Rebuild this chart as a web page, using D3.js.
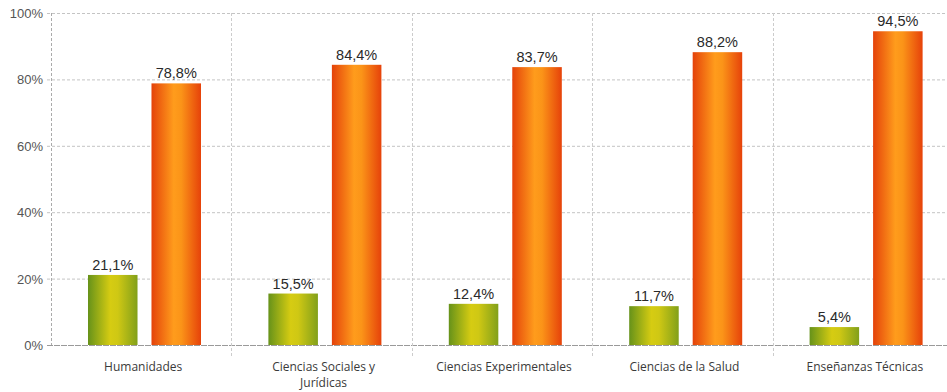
<!DOCTYPE html>
<html>
<head>
<meta charset="utf-8">
<script src="https://cdn.jsdelivr.net/npm/d3@7"></script>
<style>
  html, body { margin: 0; padding: 0; background: #fff; }
  svg { display: block; }
</style>
</head>
<body>
<svg id="chart" width="947" height="392"></svg>
<script>
const categories = ["Humanidades", "Ciencias Sociales y\nJurídicas", "Ciencias Experimentales", "Ciencias de la Salud", "Enseñanzas Técnicas"];
const series = ["a", "b"];
const valuesA = [21.1, 15.5, 12.4, 11.7, 5.4];
const valuesB = [78.8, 84.4, 83.7, 88.2, 94.5];
const yTicks = [0, 20, 40, 60, 80, 100];

const svg = d3.select("#chart");
const mLeft = 51, mRight = 953, mTop = 13, mBottom = 345;

const x0 = d3.scaleBand().domain(categories).range([mLeft, mRight]).padding(0);
const x1 = d3.scaleBand().domain(series).range([37, 150]).paddingInner(0.22);
const y = d3.scaleLinear().domain([0, 100]).range([mBottom, mTop]);

const defs = svg.append("defs");
const gA = defs.append("linearGradient").attr("id", "gA").attr("x1", "0").attr("x2", "1").attr("y1", "0").attr("y2", "0");
[[0, "#66921a"], [0.45, "#d6cc12"], [0.6, "#cfc814"], [1, "#82a01a"]].forEach(([o, c]) => gA.append("stop").attr("offset", o).attr("stop-color", c));
const gB = defs.append("linearGradient").attr("id", "gB").attr("x1", "0").attr("x2", "1").attr("y1", "0").attr("y2", "0");
[[0, "#e4420a"], [0.45, "#ff9c1c"], [0.6, "#fb9418"], [1, "#e6420a"]].forEach(([o, c]) => gB.append("stop").attr("offset", o).attr("stop-color", c));

// horizontal grid
const grid = svg.append("g");
grid.selectAll("line.h").data(yTicks).join("line")
  .attr("x1", mLeft - 4).attr("x2", 947)
  .attr("y1", d => y(d) + 0.5).attr("y2", d => y(d) + 0.5)
  .attr("stroke", d => d === 0 ? "#9a9a9a" : "#c4c4c4")
  .attr("stroke-width", 1)
  .attr("stroke-dasharray", d => d === 0 ? "6,1" : "3,2");

// vertical grid (category boundaries)
const bounds = [mLeft].concat(categories.slice(1).map(c => x0(c)));
grid.selectAll("line.v").data(bounds).join("line")
  .attr("x1", d => Math.round(d) + 0.5).attr("x2", d => Math.round(d) + 0.5)
  .attr("y1", mTop).attr("y2", (d, i) => i === 0 ? mBottom : mBottom + 12)
  .attr("stroke", (d, i) => i === 0 ? "#aaaaaa" : "#cccccc")
  .attr("stroke-dasharray", "3,2");

// y tick labels
svg.append("g").selectAll("text").data(yTicks).join("text")
  .attr("x", 43).attr("y", d => y(d) + 5)
  .attr("text-anchor", "end")
  .attr("font-family", "Liberation Sans, Arial, sans-serif")
  .attr("font-size", 13).attr("fill", "#555")
  .text(d => d + "%");

const data = categories.map((c, i) => ({ cat: c, vals: [valuesA[i], valuesB[i]] }));
const groups = svg.append("g").selectAll("g").data(data).join("g")
  .attr("transform", d => `translate(${x0(d.cat)},0)`);

groups.selectAll("rect").data(d => d.vals.map((v, j) => ({ s: series[j], v }))).join("rect")
  .attr("x", d => x1(d.s)).attr("width", x1.bandwidth())
  .attr("y", d => y(d.v)).attr("height", d => y(0) - y(d.v))
  .attr("fill", d => d.s === "a" ? "url(#gA)" : "url(#gB)");

groups.selectAll("text.val").data(d => d.vals.map((v, j) => ({ s: series[j], v }))).join("text")
  .attr("class", "val")
  .attr("x", d => x1(d.s) + x1.bandwidth() / 2).attr("y", d => y(d.v) - 5)
  .attr("text-anchor", "middle")
  .attr("font-family", "Liberation Sans, Arial, sans-serif")
  .attr("font-size", 14.5).attr("fill", "#2a2a2a")
  .text(d => d.v.toFixed(1).replace(".", ",") + "%");

// category labels
groups.append("text")
  .attr("text-anchor", "middle")
  .attr("font-family", "Open Sans, sans-serif")
  .attr("font-size", 12).attr("fill", "#3a3a3a")
  .each(function(d) {
    const lines = d.cat.split("\n");
    d3.select(this).selectAll("tspan").data(lines).join("tspan")
      .attr("x", x0.bandwidth() / 2 + 2)
      .attr("y", (l, k) => 371 + k * 16)
      .text(l => l);
  });
</script>
</body>
</html>
